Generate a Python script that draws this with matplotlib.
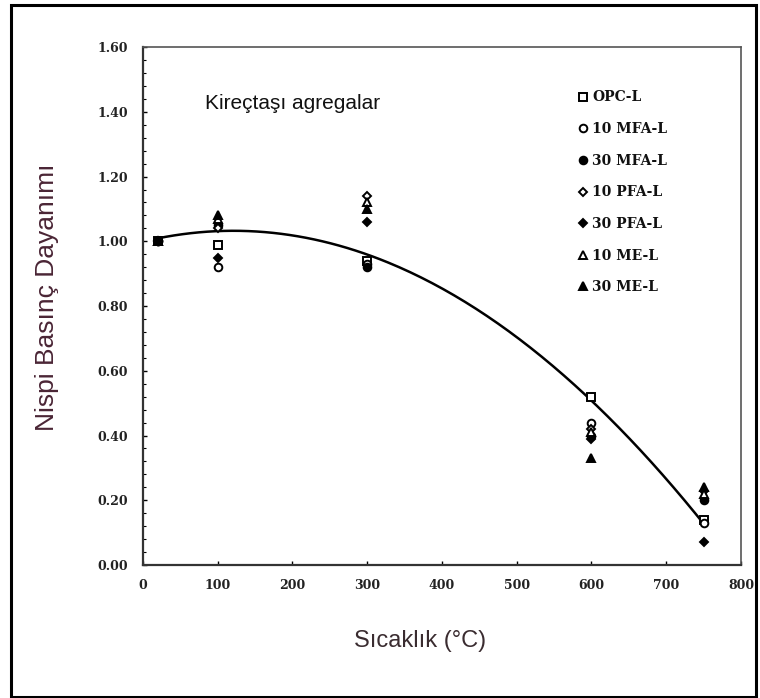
import matplotlib.pyplot as plt
import numpy as np
from matplotlib.patches import Rectangle
from matplotlib.ticker import MultipleLocator

# Sıcaklık değerleri ve nispi basınç dayanımları
temps = [20, 100, 300, 600, 750]
opc_l = [1.00, 0.99, 0.94, 0.52, 0.14]
mfa10_l = [1.00, 0.92, 0.93, 0.44, 0.13]
mfa30_l = [1.00, 1.05, 0.92, 0.40, 0.20]
pfa10_l = [1.00, 1.04, 1.14, 0.42, 0.23]
pfa30_l = [1.00, 0.95, 1.06, 0.39, 0.07]
me10_l = [1.00, 1.07, 1.12, 0.41, 0.22]
me30_l = [1.00, 1.08, 1.10, 0.33, 0.24]

series = [
    ('OPC-L', opc_l, 's', 'white', 5.5),
    ('10 MFA-L', mfa10_l, 'o', 'white', 5.5),
    ('30 MFA-L', mfa30_l, 'o', 'black', 5.5),
    ('10 PFA-L', pfa10_l, 'D', 'white', 4.5),
    ('30 PFA-L', pfa30_l, 'D', 'black', 4.5),
    ('10 ME-L', me10_l, '^', 'white', 6),
    ('30 ME-L', me30_l, '^', 'black', 6),
]

x_ticks = [0, 100, 200, 300, 400, 500, 600, 700, 800]
y_ticks = [0.0, 0.2, 0.4, 0.6, 0.8, 1.0, 1.2, 1.4, 1.6]

fig = plt.figure(figsize=(7.6, 6.98), dpi=100)
ax = fig.add_axes([0.188, 0.1905, 0.787, 0.742])

for name, vals, mk, fc, ms in series:
    ax.plot(temps, vals, linestyle='none', marker=mk, markersize=ms,
            markerfacecolor=fc, markeredgecolor='black', markeredgewidth=1.4,
            label=name, zorder=3)

# 2. derece eğilim eğrisi (tüm seriler)
all_x = np.concatenate([temps] * len(series))
all_y = np.concatenate([s[1] for s in series])
coef = np.polyfit(all_x, all_y, 2)
xs = np.linspace(20, 750, 200)
ax.plot(xs, np.polyval(coef, xs), color='black', linewidth=1.8, zorder=2)

ax.set_xlim(0, 800)
ax.set_ylim(0, 1.6)
ax.set_xticks(x_ticks)
ax.set_yticks(y_ticks)
ax.set_xticklabels([str(v) for v in x_ticks])
ax.set_yticklabels([f'{v:.2f}' for v in y_ticks])
ax.yaxis.set_minor_locator(MultipleLocator(0.04))
ax.tick_params(which='major', direction='in', length=3, width=1)
ax.tick_params(axis='y', pad=10.5)
ax.tick_params(axis='x', pad=10)
ax.tick_params(which='minor', direction='in', length=2, width=0.8)
for lbl in ax.get_xticklabels() + ax.get_yticklabels():
    lbl.set_fontfamily('DejaVu Serif')
    lbl.set_fontweight('bold')
    lbl.set_fontsize(9)
    lbl.set_color('#222222')

for side in ['left', 'bottom']:
    ax.spines[side].set_linewidth(1.6)
    ax.spines[side].set_color('#333333')
for side in ['top', 'right']:
    ax.spines[side].set_linewidth(1.2)
    ax.spines[side].set_color('#555555')

ax.text(0.104, 0.892, 'Kireçtaşı agregalar', transform=ax.transAxes,
        fontsize=15, fontfamily='Liberation Sans', color='#111111', va='center')

ax.set_ylabel('Nispi Basınç Dayanımı', fontsize=19, fontfamily='Liberation Sans',
              color='#4a2535')
ax.yaxis.set_label_coords(-0.14, 0.517)
ax.set_xlabel('Sıcaklık (°C)', fontsize=17, fontfamily='Liberation Sans',
              color='#3a2c30')
ax.xaxis.set_label_coords(0.463, -0.125)

leg = ax.legend(loc='upper left', bbox_to_anchor=(0.72, 0.927), frameon=False,
                handlelength=0.6, handletextpad=0.35, labelspacing=1.27,
                borderaxespad=0,
                prop={'family': 'DejaVu Serif', 'weight': 'bold', 'size': 10})
for t in leg.get_texts():
    t.set_color('#111111')

fig.patches.append(Rectangle((0.0145, 0.0015), 0.98, 0.991, transform=fig.transFigure,
                             fill=False, edgecolor='black', linewidth=2.2))

fig.savefig('out.png', dpi=100)
